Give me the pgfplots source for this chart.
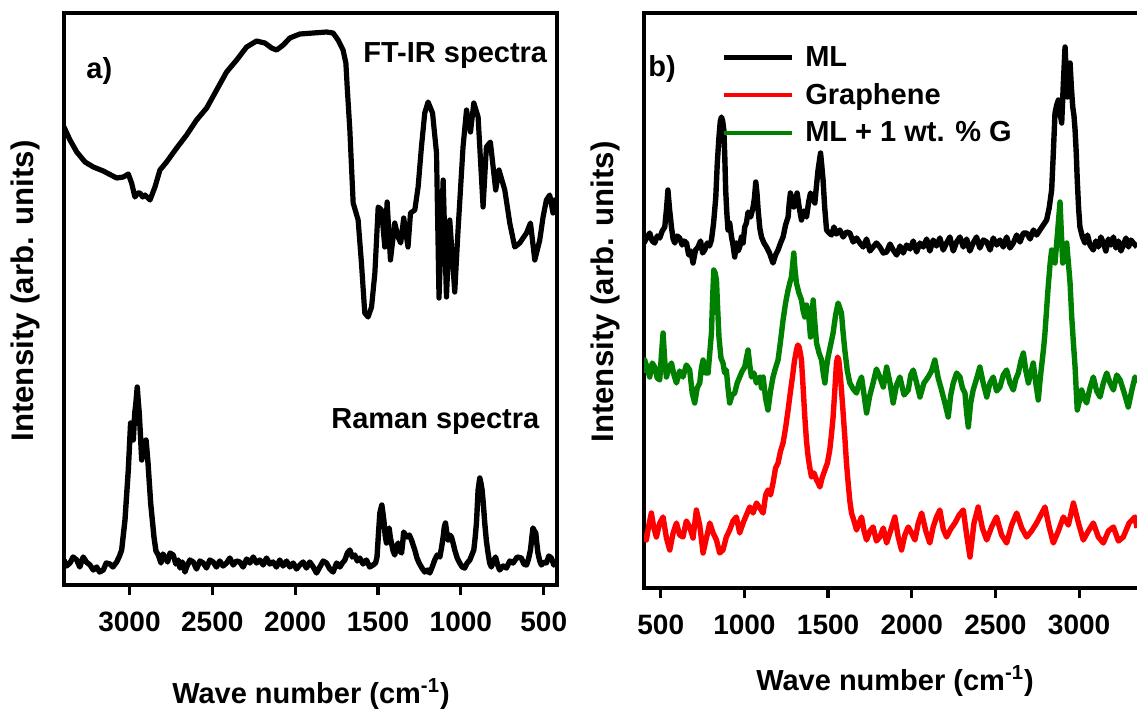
\documentclass[border=0pt]{standalone}
\usepackage{fontspec}
\setmainfont{Liberation Sans}
\usepackage{pgfplots}
\pgfplotsset{compat=1.18}
\definecolor{mygreen}{RGB}{0,128,0}
\pgfplotsset{
  spec/.style={
    scale only axis, width=246.5pt,
    axis line style={line width=2pt, -, line cap=rect},
    ytick=\empty,
    tick label style={font=\fontsize{14}{16}\selectfont\bfseries},
    /pgf/number format/assume math mode=true,
    /pgf/number format/1000 sep={},
    xtick={500,1000,1500,2000,2500,3000},
    tick align=outside, major tick length=5pt,
    every tick/.style={line width=1.6pt, black},
    xticklabel style={yshift=-5pt},
    every axis plot/.append style={line width=2.7pt, line join=round},
  }
}
\begin{document}
\begin{tikzpicture}
\useasboundingbox (0pt,0pt) rectangle (568.5pt,-356.5pt);
% ---------- panel a, FT-IR ----------
\begin{axis}[spec, at={(32pt,-6.5pt)}, anchor=north west, height=165.5pt,
  x dir=reverse, xmin=420, xmax=3395, ymin=369, ymax=700,
  axis x line*=top, axis y line*=box, xtick=\empty]
\addplot[black, line width=2.6pt] coordinates {
(3395,586) (3359,573) (3318,561) (3268,551) (3218,546) (3158,542) (3077,535) (3037,536) (3007,539)
(2987,530) (2967,516) (2950,520) (2937,520) (2920,516) (2906,518) (2876,513) (2846,526) (2816,543)
(2776,551) (2715,565) (2655,578) (2595,593) (2534,605) (2474,623) (2414,641) (2353,653) (2293,666)
(2233,672) (2183,670) (2142,665) (2112,663) (2072,668) (2032,675) (1972,679) (1891,680) (1811,681)
(1771,680) (1741,673) (1711,663) (1694,650) (1686,626) (1670,583) (1650,510) (1620,493) (1600,450)
(1580,400) (1560,396) (1539,406) (1519,440) (1499,506) (1479,503) (1459,466) (1445,511) (1425,453)
(1399,490) (1379,476) (1363,470) (1345,495) (1319,466) (1304,500) (1278,503) (1258,526) (1238,566)
(1218,600) (1198,611) (1171,600) (1147,560) (1132,415) (1107,533) (1087,416) (1067,493) (1037,421)
(1017,483) (987,566) (966,603) (942,581) (922,610) (896,596) (866,506) (846,566) (822,571) (790,523)
(770,543) (735,523) (705,490) (675,466) (645,470) (604,480) (580,490) (554,453) (524,473) (504,496)
(484,513) (464,518) (444,500) (434,513) (420,505)
};
\end{axis}
% ---------- panel a, Raman ----------
\begin{axis}[spec, at={(32pt,-174pt)}, anchor=north west, height=118.5pt,
  x dir=reverse, xmin=420, xmax=3395, ymin=128, ymax=365,
  axis x line*=bottom, axis y line*=box]
\addplot[black] coordinates {
(3395,153) (3380,147) (3359,150) (3340,156) (3318,153) (3300,146) (3279,156) (3260,151) (3238,148)
(3218,143) (3198,146) (3180,141) (3158,143) (3140,150) (3118,149) (3100,146) (3077,151) (3060,157)
(3047,163) (3027,193) (3007,243) (2993,290) (2985,282) (2977,273) (2968,300) (2961,310) (2953,326)
(2947,312) (2941,300) (2933,276) (2926,253) (2918,266) (2913,270) (2905,262) (2900,273) (2894,262)
(2888,250) (2872,210) (2852,176) (2840,162) (2826,158) (2810,150) (2798,159) (2786,156) (2770,151)
(2755,160) (2736,158) (2720,149) (2705,153) (2695,145) (2680,151) (2665,141) (2655,146) (2635,153)
(2615,151) (2595,144) (2575,152) (2555,150) (2535,145) (2515,153) (2495,151) (2475,146) (2455,152)
(2435,147) (2414,150) (2394,155) (2374,148) (2354,152) (2334,151) (2314,146) (2293,154) (2273,150)
(2253,156) (2233,150) (2213,153) (2193,148) (2173,155) (2153,149) (2133,151) (2113,146) (2093,153)
(2073,147) (2052,152) (2032,146) (2012,150) (1992,144) (1972,148) (1952,151) (1932,145) (1912,151)
(1891,146) (1871,140) (1851,146) (1831,152) (1811,150) (1791,144) (1771,141) (1750,150) (1730,146)
(1715,150) (1700,153) (1685,160) (1670,163) (1655,156) (1640,158) (1625,152) (1610,155) (1590,149)
(1570,153) (1550,146) (1530,148) (1515,150) (1506,156) (1497,180) (1489,200) (1477,208) (1465,193)
(1457,178) (1449,170) (1441,182) (1433,185) (1426,176) (1419,170) (1409,162) (1399,158) (1389,166)
(1379,170) (1368,162) (1358,160) (1350,172) (1345,181) (1335,178) (1325,176) (1311,178) (1298,173)
(1288,168) (1278,163) (1265,155) (1252,150) (1235,145) (1218,141) (1200,143) (1188,140) (1173,146)
(1158,153) (1143,158) (1127,156) (1117,165) (1107,176) (1100,186) (1093,190) (1085,180) (1077,173)
(1067,178) (1057,176) (1047,170) (1037,163) (1022,155) (1007,150) (992,146) (977,145) (962,150)
(946,153) (934,158) (922,163) (914,175) (906,190) (896,223) (886,235) (879,230) (872,223) (864,208)
(856,190) (846,172) (836,160) (826,150) (816,146) (803,152) (791,156) (778,148) (766,143) (745,147)
(725,145) (705,152) (685,150) (660,156) (635,155) (620,149) (604,148) (592,154) (580,163) (572,175)
(565,185) (556,182) (548,180) (542,170) (535,160) (524,152) (514,148) (499,151) (484,150) (469,157)
(454,155) (439,148) (424,151) (420,150)
};
\end{axis}
% ---------- panel b ----------
\begin{axis}[spec, at={(322pt,-6.5pt)}, anchor=north west, height=287.5pt,
  xmin=400, xmax=3346, ymin=125, ymax=700,
  axis x line*=box, axis y line*=left, xtick pos=left,
  legend style={draw=none, fill=none, at={(0.145,0.957)}, anchor=north west,
    font=\fontsize{14.5}{17}\selectfont\bfseries, row sep=3pt, column sep=3.5pt},
  legend cell align=left,
  legend image code/.code={\draw[#1, line width=2.2pt] (0pt,0pt) -- (34pt,0pt);}]
\addlegendimage{black}\addlegendentry{ML}
\addlegendimage{red}\addlegendentry{Graphene}
\addlegendimage{mygreen}\addlegendentry{ML + 1 wt. \% G}
\addplot[black, forget plot] coordinates {
(400,470) (419,476) (434,480) (449,472) (464,470) (479,477) (494,475) (509,482) (524,486) (535,505)
(543,523) (552,505) (564,486) (574,474) (584,470) (598,477) (613,475) (628,468) (640,472) (654,470)
(667,458) (680,462) (693,450) (708,463) (723,466) (738,472) (750,460) (763,463) (778,470) (791,467)
(803,473) (816,490) (829,516) (838,550) (848,576) (856,592) (863,596) (870,592) (877,583) (883,555)
(888,523) (895,500) (902,483) (912,490) (923,476) (932,468) (942,456) (952,470) (962,462) (972,466)
(982,476) (992,470) (1002,486) (1012,490) (1022,501) (1037,496) (1052,506) (1060,515) (1068,531)
(1075,520) (1082,503) (1092,485) (1102,476) (1117,470) (1132,466) (1150,460) (1171,450) (1186,458)
(1201,463) (1216,470) (1231,476) (1246,488) (1261,496) (1268,510) (1275,520) (1285,512) (1295,506)
(1305,514) (1315,520) (1328,505) (1341,493) (1356,502) (1371,496) (1385,512) (1395,520) (1408,515)
(1421,510) (1431,528) (1440,543) (1448,552) (1455,560) (1462,548) (1470,533) (1480,505) (1491,483)
(1506,480) (1521,478) (1535,486) (1550,479) (1570,483) (1590,476) (1610,481) (1630,480) (1650,471)
(1670,475) (1690,470) (1710,466) (1730,474) (1750,462) (1769,466) (1789,470) (1809,466) (1830,460)
(1850,461) (1870,469) (1889,463) (1910,458) (1930,467) (1949,460) (1969,468) (1990,464) (2009,472)
(2029,461) (2049,470) (2069,466) (2089,474) (2108,462) (2128,473) (2148,467) (2168,475) (2188,463)
(2208,470) (2228,476) (2248,462) (2268,471) (2288,476) (2308,466) (2328,474) (2347,462) (2367,470)
(2387,476) (2407,465) (2428,473) (2448,471) (2468,463) (2487,475) (2507,468) (2527,473) (2547,466)
(2567,476) (2587,465) (2607,470) (2627,478) (2647,471) (2667,480) (2687,480) (2707,474) (2727,483)
(2746,478) (2766,483) (2786,488) (2806,493) (2821,505) (2836,523) (2846,560) (2856,600) (2866,608)
(2876,613) (2886,600) (2896,590) (2906,630) (2916,666) (2923,640) (2930,616) (2938,640) (2946,650)
(2954,625) (2962,606) (2969,598) (2976,583) (2983,560) (2989,533) (2997,505) (3005,486) (3020,476)
(3035,470) (3050,478) (3065,468) (3085,463) (3100,472) (3115,466) (3130,476) (3145,470) (3160,462)
(3175,474) (3190,468) (3205,476) (3220,465) (3235,472) (3250,462) (3264,468) (3280,475) (3295,466)
(3310,473) (3324,470) (3346,466)
};
\addplot[mygreen, forget plot] coordinates {
(400,340) (404,353) (419,345) (434,336) (449,350) (464,346) (479,335) (494,333) (504,358) (514,380)
(524,352) (534,336) (549,345) (564,350) (579,338) (594,330) (613,342) (633,336) (653,348) (673,343)
(688,320) (703,310) (718,325) (733,330) (743,345) (753,353) (768,340) (783,340) (793,360) (803,380)
(810,415) (817,443) (825,440) (833,433) (840,405) (848,376) (860,355) (872,350) (882,340) (892,343)
(902,325) (912,310) (927,318) (942,320) (957,330) (972,336) (987,342) (1002,346) (1012,355) (1022,363)
(1032,348) (1042,336) (1057,340) (1072,330) (1092,336) (1102,325) (1112,336) (1126,315) (1141,303)
(1156,322) (1171,336) (1186,345) (1201,353) (1216,372) (1231,393) (1246,410) (1261,423) (1271,430)
(1281,436) (1288,448) (1295,460) (1303,442) (1311,430) (1326,420) (1341,413) (1351,402) (1361,396)
(1371,408) (1381,403) (1388,390) (1395,376) (1403,395) (1411,413) (1421,390) (1431,370) (1446,360)
(1461,353) (1471,340) (1481,330) (1490,345) (1500,356) (1515,368) (1530,380) (1545,398) (1560,410)
(1570,405) (1580,400) (1590,380) (1600,363) (1615,342) (1630,330) (1650,324) (1670,320) (1685,330)
(1700,336) (1715,318) (1730,300) (1750,318) (1769,330) (1789,344) (1809,336) (1830,326) (1850,346)
(1870,330) (1889,310) (1909,328) (1929,336) (1954,318) (1979,323) (1994,338) (2009,343) (2029,330)
(2049,316) (2073,330) (2098,336) (2118,342) (2138,353) (2158,335) (2178,323) (2198,310) (2218,296)
(2233,318) (2248,330) (2268,340) (2288,336) (2303,325) (2318,320) (2328,300) (2338,286) (2352,310)
(2367,323) (2387,334) (2407,346) (2427,330) (2448,316) (2467,330) (2487,336) (2507,322) (2527,326)
(2547,338) (2567,343) (2587,330) (2607,323) (2622,334) (2637,340) (2652,352) (2667,360) (2682,342)
(2697,330) (2711,340) (2726,350) (2741,330) (2756,313) (2768,335) (2780,353) (2788,365) (2796,380)
(2806,404) (2816,428) (2826,448) (2836,463) (2846,455) (2856,450) (2871,480) (2886,511) (2894,480)
(2902,450) (2914,455) (2926,470) (2936,450) (2946,430) (2956,396) (2966,370) (2976,346) (2983,322)
(2989,303) (3002,312) (3015,323) (3030,315) (3045,310) (3065,325) (3085,336) (3105,322) (3125,316)
(3145,330) (3165,340) (3185,330) (3205,323) (3225,338) (3245,333) (3270,320) (3294,306) (3314,322)
(3334,336) (3346,330)
};
\addplot[red, forget plot] coordinates {
(400,180) (414,173) (429,188) (444,200) (459,185) (474,176) (494,190) (514,196) (534,175) (554,163)
(574,180) (594,190) (613,178) (633,176) (653,192) (673,186) (693,175) (713,203) (733,188) (753,160)
(773,175) (793,190) (813,180) (833,173) (852,160) (872,163) (892,176) (912,183) (932,192) (952,196)
(972,180) (992,190) (1012,198) (1032,206) (1052,200) (1072,210) (1092,205) (1112,200) (1127,218)
(1141,223) (1156,218) (1171,230) (1186,245) (1201,250) (1216,262) (1231,270) (1246,285) (1261,303)
(1274,320) (1287,336) (1299,352) (1311,363) (1319,368) (1327,366) (1334,360) (1341,353) (1351,325)
(1361,296) (1371,272) (1381,256) (1391,245) (1401,236) (1416,240) (1431,233) (1441,230) (1451,226)
(1466,236) (1481,243) (1496,250) (1510,263) (1520,278) (1530,296) (1540,322) (1550,350) (1557,356)
(1564,353) (1572,340) (1580,323) (1590,300) (1600,276) (1610,250) (1620,230) (1630,212) (1640,200)
(1655,192) (1670,183) (1685,190) (1700,196) (1715,182) (1730,173) (1750,182) (1769,186) (1789,172)
(1809,176) (1830,185) (1850,170) (1875,183) (1899,196) (1919,176) (1939,163) (1959,178) (1979,186)
(1999,180) (2019,173) (2039,190) (2059,200) (2084,182) (2108,170) (2128,186) (2148,196) (2168,203)
(2188,184) (2208,176) (2233,184) (2258,190) (2283,198) (2308,203) (2328,178) (2348,156) (2372,190)
(2397,206) (2422,185) (2448,173) (2477,186) (2507,196) (2537,178) (2567,170) (2597,188) (2627,200)
(2657,185) (2687,176) (2716,182) (2746,190) (2771,198) (2796,206) (2821,186) (2846,170) (2876,182)
(2906,196) (2936,188) (2966,210) (2996,190) (3025,173) (3055,182) (3085,190) (3115,176) (3145,170)
(3175,182) (3205,186) (3235,172) (3264,176) (3299,190) (3334,196) (3346,185)
};
\end{axis}
% ---------- texts ----------
\node[anchor=base west, font=\fontsize{14.5}{17}\selectfont\bfseries, inner sep=0pt] at (43pt,-39pt) {a)};
\node[anchor=base west, font=\fontsize{14.5}{17}\selectfont\bfseries, inner sep=0pt] at (324pt,-38pt) {b)};
\node[anchor=base west, font=\fontsize{14.5}{17}\selectfont\bfseries, inner sep=0pt] at (181.5pt,-31pt) {FT-IR spectra};
\node[anchor=base west, font=\fontsize{14.5}{17}\selectfont\bfseries, inner sep=0pt] at (165.5pt,-214pt) {Raman spectra};
\node[rotate=90, font=\fontsize{15.6}{18}\selectfont\bfseries, inner sep=0pt] at (12.5pt,-145.5pt) {Intensity (arb. units)};
\node[rotate=90, font=\fontsize{15.6}{18}\selectfont\bfseries, inner sep=0pt] at (302.5pt,-146pt) {Intensity (arb. units)};
\node[anchor=base, font=\fontsize{14.5}{17}\selectfont\bfseries, inner sep=0pt] at (155.5pt,-351.5pt) {Wave number (cm\textsuperscript{-1})};
\node[anchor=base, font=\fontsize{14.5}{17}\selectfont\bfseries, inner sep=0pt] at (447.5pt,-345pt) {Wave number (cm\textsuperscript{-1})};
\end{tikzpicture}
\end{document}
